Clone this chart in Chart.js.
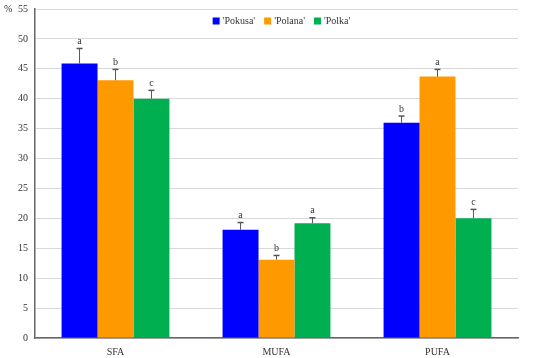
<!DOCTYPE html>
<html lang="en">
<head>
<meta charset="UTF-8">
<title>Fatty acids</title>
<script src="https://cdn.jsdelivr.net/npm/chart.js"></script>
<style>
    html, body { margin: 0; padding: 0; background: #fff; overflow: hidden; }
    #wrap { width: 550px; height: 366px; position: relative; top: -4px; }
</style>
</head>
<body>
<div id="wrap"><canvas id="grafico"></canvas></div>
<script>
    // dados
    const categorias = ['SFA', 'MUFA', 'PUFA'];
    const pokusa = [45.9, 18.1, 36.0];
    const polana = [43.1, 13.1, 43.7];
    const polka = [40.0, 19.2, 20.0];
    // topo das barras de erro
    const erroPokusa = [48.4, 19.3, 37.1];
    const erroPolana = [44.9, 13.8, 44.9];
    const erroPolka = [41.4, 20.1, 21.5];
    // letras de significancia
    const letrasPokusa = ['a', 'a', 'b'];
    const letrasPolana = ['b', 'b', 'a'];
    const letrasPolka = ['c', 'a', 'c'];
    const ticksY = [0, 5, 10, 15, 20, 25, 30, 35, 40, 45, 50, 55];

    const fonte = "'Liberation Serif', 'DejaVu Serif', serif";

    const erros = [erroPokusa, erroPolana, erroPolka];
    const letras = [letrasPokusa, letrasPolana, letrasPolka];

    const pluginErro = {
        id: 'barrasErro',
        afterDatasetsDraw(chart) {
            const ctx = chart.ctx;
            const y = chart.scales.y;
            ctx.save();
            chart.data.datasets.forEach((ds, i) => {
                const meta = chart.getDatasetMeta(i);
                meta.data.forEach((bar, j) => {
                    const topo = y.getPixelForValue(erros[i][j]);
                    ctx.strokeStyle = '#555';
                    ctx.lineWidth = 1;
                    ctx.beginPath();
                    ctx.moveTo(bar.x, bar.y);
                    ctx.lineTo(bar.x, topo);
                    ctx.stroke();
                    ctx.lineWidth = 1.5;
                    ctx.beginPath();
                    ctx.moveTo(bar.x - 3, topo);
                    ctx.lineTo(bar.x + 3, topo);
                    ctx.stroke();
                    ctx.fillStyle = '#333';
                    ctx.font = '10px ' + fonte;
                    ctx.textAlign = 'center';
                    ctx.textBaseline = 'bottom';
                    ctx.fillText(letras[i][j], bar.x, topo - 2);
                });
            });
            // simbolo %
            ctx.fillStyle = '#333';
            ctx.font = '10px ' + fonte;
            ctx.textAlign = 'left';
            ctx.textBaseline = 'middle';
            ctx.fillText('%', 4, y.getPixelForValue(55));

            // legenda dentro da area do grafico
            const area = chart.chartArea;
            const itens = chart.data.datasets.map(ds => ({
                texto: ds.label,
                cor: ds.backgroundColor,
                largura: 7 + 3 + ctx.measureText(ds.label).width
            }));
            const espaco = 9;
            const total = itens.reduce((s, it) => s + it.largura, 0) + espaco * (itens.length - 1);
            let xi = (area.left + area.right) / 2 - total / 2 + 5;
            const yl = area.top + 12;
            itens.forEach(it => {
                ctx.fillStyle = it.cor;
                ctx.fillRect(xi, yl - 3.5, 7, 7);
                ctx.fillStyle = '#333';
                ctx.fillText(it.texto, xi + 10, yl);
                xi += it.largura + espaco;
            });
            ctx.restore();
        }
    };

    const ctx = document.getElementById('grafico').getContext('2d');

    const grafico = new Chart(ctx, {
        type: 'bar',
        data: {
            labels: categorias,
            datasets: [
                { label: "'Pokusa'", data: pokusa, backgroundColor: '#0000FF' },
                { label: "'Polana'", data: polana, backgroundColor: '#FF9900' },
                { label: "'Polka'", data: polka, backgroundColor: '#00B050' }
            ]
        },
        options: {
            responsive: true,
            maintainAspectRatio: false,
            animation: false,
            layout: { padding: { top: 0, right: 32, bottom: 0, left: 0 } },
            datasets: {
                bar: { categoryPercentage: 0.67, barPercentage: 1.0 }
            },
            scales: {
                x: {
                    afterFit(scale) { scale.height = 24; },
                    grid: { display: false },
                    border: { color: '#666', width: 1.5 },
                    ticks: { color: '#333', font: { family: fonte, size: 10 }, padding: 0 }
                },
                y: {
                    min: 0,
                    max: 55,
                    afterFit(scale) { scale.width = 35; },
                    afterBuildTicks(scale) { scale.ticks = ticksY.map(v => ({ value: v })); },
                    grid: { color: '#d9d9d9', drawTicks: false },
                    border: { color: '#666', width: 1.5 },
                    ticks: { color: '#333', font: { family: fonte, size: 10 }, padding: 7 }
                }
            },
            plugins: {
                legend: { display: false },
                tooltip: { enabled: false }
            }
        },
        plugins: [pluginErro]
    });
</script>
</body>
</html>
